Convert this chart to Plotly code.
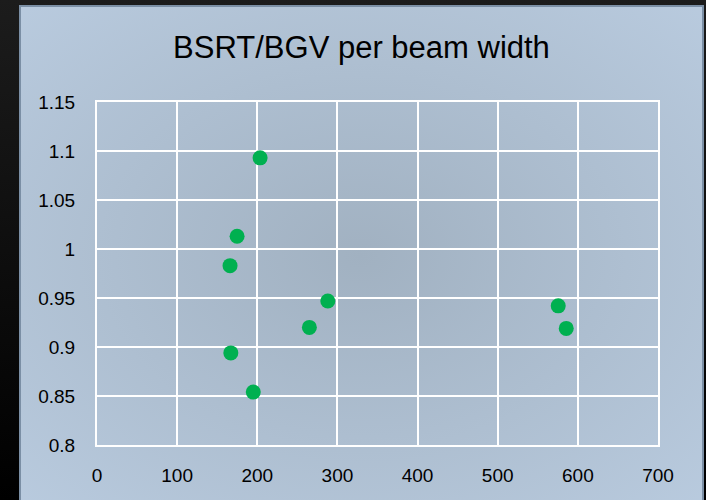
import base64
import plotly.graph_objects as go

# Data
beam_width = [203.5, 174.8, 166, 288, 265, 167, 195, 575.5, 585.5]
ratio = [1.093, 1.013, 0.983, 0.947, 0.920, 0.894, 0.854, 0.942, 0.919]

x_ticks = [0, 100, 200, 300, 400, 500, 600, 700]
y_ticks = [0.8, 0.85, 0.9, 0.95, 1.0, 1.05, 1.1, 1.15]
y_tick_text = ["0.8", "0.85", "0.9", "0.95", "1", "1.05", "1.1", "1.15"]

W, H = 706, 500
FONT = "Liberation Sans Narrow, Arial Narrow, Liberation Sans, Arial, sans-serif"

svg = (
    "<svg xmlns='http://www.w3.org/2000/svg' width='706' height='500' viewBox='0 0 706 500' preserveAspectRatio='none'>"
    "<defs>"
    "<linearGradient id='o' x1='0' y1='0' x2='0' y2='1'>"
    "<stop offset='0' stop-color='#1c1c1c'/><stop offset='1' stop-color='#000000'/></linearGradient>"
    "<radialGradient id='r' cx='0.5' cy='0.5' r='0.75'>"
    "<stop offset='0' stop-color='#a1b1c1'/><stop offset='1' stop-color='#bacce0'/></radialGradient>"
    "</defs>"
    "<rect width='706' height='500' fill='url(#o)'/>"
    "<rect x='20' y='6' width='683' height='500' fill='url(#r)' stroke='#7b8fa5' stroke-width='2'/>"
    "</svg>"
)
src = "data:image/svg+xml;base64," + base64.b64encode(svg.encode()).decode()

fig = go.Figure()
fig.add_trace(go.Scatter(
    x=beam_width, y=ratio, mode="markers",
    marker=dict(size=15, color="#00b050", line=dict(width=0)),
    showlegend=False, hoverinfo="skip",
))

x0, x1 = 97, 658
y0, y1 = 102, 445
fig.update_layout(
    width=W, height=H,
    margin=dict(l=0, r=0, t=0, b=0),
    paper_bgcolor="#000000",
    plot_bgcolor="rgba(0,0,0,0)",
    images=[dict(source=src, xref="paper", yref="paper", x=0, y=1,
                 sizex=1, sizey=1, sizing="stretch", layer="below",
                 xanchor="left", yanchor="top")],
    title=dict(text="BSRT/BGV per beam width", x=361.5 / W, xanchor="center",
               y=1 - 47 / H, yanchor="middle",
               font=dict(family=FONT, size=31, color="#000000")),
    xaxis=dict(domain=[x0 / W, x1 / W], range=[0, 700], tickvals=x_ticks,
               showgrid=True, gridcolor="#ffffff", gridwidth=2,
               showline=True, linecolor="#ffffff", linewidth=2, mirror=True,
               zeroline=False, ticks="", ticklabelstandoff=12,
               tickfont=dict(family=FONT, size=19, color="#000000"),
               automargin=False, fixedrange=True),
    yaxis=dict(domain=[1 - y1 / H, 1 - y0 / H], range=[0.8, 1.15],
               tickvals=y_ticks, ticktext=y_tick_text,
               showgrid=True, gridcolor="#ffffff", gridwidth=2,
               showline=True, linecolor="#ffffff", linewidth=2, mirror=True,
               zeroline=False, ticks="", ticklabelstandoff=16,
               tickfont=dict(family=FONT, size=19, color="#000000"),
               automargin=False, fixedrange=True),
)

fig.write_html("out.html")
